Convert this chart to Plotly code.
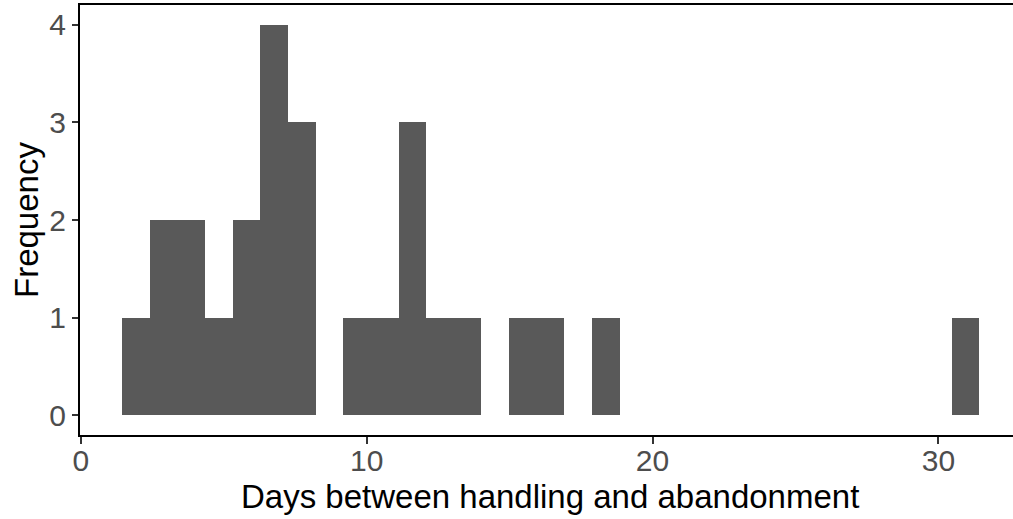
import plotly.graph_objects as go

# Histogram bins
bin_start = 1.438
bin_width = 0.9675
counts = [1, 2, 2, 1, 2, 4, 3, 0, 1, 1, 3, 1, 1, 0, 1, 1, 0, 1,
          0, 0, 0, 0, 0, 0, 0, 0, 0, 0, 0, 0, 1]
centers = [bin_start + bin_width * (i + 0.5) for i in range(len(counts))]

x_ticks = [0, 10, 20, 30]
y_ticks = [0, 1, 2, 3, 4]
x_title = "Days between handling and abandonment"
y_title = "Frequency"

fig = go.Figure()
fig.add_trace(go.Bar(
    x=centers, y=counts, width=[bin_width] * len(counts),
    marker=dict(color="#595959", line=dict(width=0)),
    hoverinfo="x+y",
))

font_family = "Liberation Sans, Arial, sans-serif"
W, H = 1013, 519
ml, mr, mt, mb = 80, 0, 5, 84
pw, ph = W - ml - mr, H - mt - mb

fig.update_layout(
    width=W, height=H,
    margin=dict(l=ml, r=mr, t=mt, b=mb, autoexpand=False),
    paper_bgcolor="white", plot_bgcolor="white",
    showlegend=False, bargap=0,
    font=dict(family=font_family),
    xaxis=dict(
        range=[-0.03, 32.61], tickvals=x_ticks, automargin=False,
        showgrid=False, zeroline=False,
        showline=True, linecolor="black", linewidth=2, mirror=True,
        ticks="outside", ticklen=7, tickwidth=1.5, tickcolor="#333333",
        ticklabelstandoff=-9,
        tickfont=dict(size=30, color="#4D4D4D", family=font_family),
    ),
    yaxis=dict(
        range=[-0.2, 4.2], tickvals=y_ticks, automargin=False,
        showgrid=False, zeroline=False,
        showline=True, linecolor="black", linewidth=2,
        ticks="outside", ticklen=6, tickwidth=1.5, tickcolor="#333333",
        tickfont=dict(size=30, color="#4D4D4D", family=font_family),
    ),
)

fig.add_annotation(
    text=x_title, showarrow=False, xref="paper", yref="paper",
    x=(550 - ml) / pw, y=(H - mb - 496) / ph, xanchor="center", yanchor="middle",
    font=dict(size=33, color="black", family=font_family),
)
fig.add_annotation(
    text=y_title, showarrow=False, xref="paper", yref="paper", textangle=-90,
    x=(26 - ml) / pw, y=(H - mb - 220) / ph, xanchor="center", yanchor="middle",
    font=dict(size=33, color="black", family=font_family),
)

fig.write_html(
    "out.html",
    config={"displayModeBar": False},
    post_script="document.body.style.margin='0';document.body.style.overflow='hidden';",
)
